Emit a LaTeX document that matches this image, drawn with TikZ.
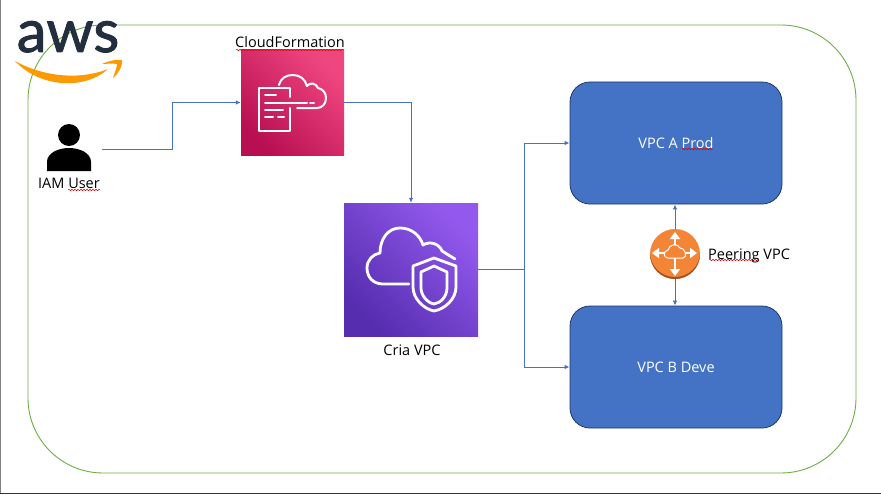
\documentclass[tikz,border=0pt]{standalone}
\usepackage{fontspec}
\setmainfont{Open Sans}
\newfontfamily\logofont[RawFeature={embolden=1.5}]{Lato}
\usepackage{xcolor}
\usetikzlibrary{arrows.meta,positioning,decorations.pathmorphing}
\definecolor{linkblue}{HTML}{4472C4}
\definecolor{vpcedge}{HTML}{1F3864}
\definecolor{framegreen}{HTML}{70AD47}
\definecolor{awsink}{HTML}{232F3E}
\definecolor{awsorange}{HTML}{FF9900}
\definecolor{routerorange}{HTML}{F58536}
\definecolor{routerdark}{HTML}{9D5025}
\definecolor{cformlow}{HTML}{B80F52}
\definecolor{cformhigh}{HTML}{F04680}
\definecolor{crialow}{HTML}{552DAE}
\definecolor{criahigh}{HTML}{9359EE}
\begin{document}
\begin{tikzpicture}[
    x=1pt, y=-1pt,
    vpcbox/.style={
        rectangle,
        draw=vpcedge,
        fill=linkblue,
        line width=0.8pt,
        minimum width=212pt,
        minimum height=122pt,
        rounded corners=20pt,
        text=white,
        font=\fontsize{14.5}{17}\selectfont
    },
    iconbox/.style 2 args={
        rectangle,
        inner sep=0pt,
        bottom color=#1,
        top color=#2,
        shading angle=-45
    },
    link/.style={-{Latex[length=5pt,width=4.5pt]}, draw=linkblue, line width=1pt},
    trunk/.style={draw=linkblue, line width=1.6pt},
    glyph/.style={draw=white, line width=2pt, line cap=round, line join=round},
    bigglyph/.style={glyph, line width=2.8pt},
    spoke/.style={white, line width=2.6pt, -{Triangle[length=7pt,width=10pt]}},
    caption/.style={inner sep=0pt, font=\fontsize{14.5}{17}\selectfont},
    squig/.style={draw=red!85!black, line width=0.5pt, decorate,
        decoration={snake, amplitude=0.7pt, segment length=3pt}}
]
\useasboundingbox (0,0) rectangle (881,495);
\fill[white] (0,0) rectangle (881,495);

% Window edge
\draw[gray, line width=1.2pt] (0.6,0) -- (0.6,493);
\draw[black!80, line width=1.5pt] (0,493.6) -- (881,493.6);

% Account boundary
\node[draw=framegreen, line width=0.9pt, rounded corners=75pt, inner sep=0pt,
      minimum width=828pt, minimum height=448pt] (account) at (442,249) {};

% AWS logo
\node[anchor=base, inner sep=0pt, text=awsink, font=\logofont\fontsize{60}{60}\selectfont] (logo) at (68,52) {aws};
\fill[awsorange] (15,61) .. controls (38,74) and (75,82) .. (108,69) .. controls (85,90) and (40,88) .. (15,61) -- cycle;
\fill[awsorange] (102,64) .. controls (108,61) and (117,59) .. (122,60) .. controls (123,66) and (118,74) .. (113,78)
    .. controls (115,72) and (117,67) .. (117,64) .. controls (112,63) and (107,64) .. (102,64) -- cycle;

% User
\node[inner sep=0pt, minimum width=66pt, minimum height=48pt] (user) at (69,149) {};
\fill (69,135) circle (11);
\fill (47,171) -- (47,162) .. controls (47,152) and (60,148) .. (69,148)
    .. controls (78,148) and (91,152) .. (91,162) -- (91,171) -- cycle;
\node[caption] (userlabel) at (69,183) {IAM User};

% CloudFormation
\node[iconbox={cformlow}{cformhigh}, minimum width=103pt, minimum height=105pt] (cform) at (292.5,102.5) {};
\node[caption] (cformlabel) at (290,42) {CloudFormation};
\draw[glyph] (290,97) -- (290,88) -- (259,88) -- (259,131) -- (290,131) -- (290,108);
\draw[glyph] (265,103) -- (307,103) (310,103) -- (314,103);
\draw[glyph] (265,95) -- (276,95) (265,110) -- (283,110) (265,117) -- (273,117) (278,117) -- (284,117);
\draw[glyph] (279,85) .. controls (281,78) and (286,75) .. (293,75) .. controls (300,75) and (305,79) .. (307,86)
    .. controls (310,82) and (316,83) .. (318,88) .. controls (323,89) and (326,93) .. (326,98)
    .. controls (326,104) and (322,108) .. (317,108) -- (297,108);

% Cria VPC
\node[iconbox={crialow}{criahigh}, minimum width=134pt, minimum height=133pt] (cria) at (411,269.5) {};
\node[caption] (crialabel) at (412,350) {Cria VPC};
\draw[bigglyph] (409,284) -- (383,284) .. controls (373,284) and (367,277) .. (367,268)
    .. controls (367,260) and (373,254) .. (380,253) .. controls (380,239) and (388,228) .. (400,228)
    .. controls (411,228) and (420,235) .. (423,245) .. controls (429,241) and (439,243) .. (442,251) -- (455,259);
\draw[bigglyph] (434,258) -- (413,266) -- (413,287) .. controls (413,299) and (424,309) .. (434,311)
    .. controls (445,309) and (456,299) .. (456,287) -- (456,266) -- cycle;
\draw[bigglyph] (434,266) -- (421,272) -- (421,288) .. controls (421,296) and (428,303) .. (434,304)
    .. controls (441,303) and (447,296) .. (447,288) -- (447,272) -- cycle;

% VPCs
\node[vpcbox] (vpca) at (676,143) {VPC A Prod};
\node[vpcbox] (vpcb) at (676,367) {VPC B Deve};

% Peering router
\node[circle, fill=routerorange, inner sep=0pt, minimum size=50pt] (router) at (675,254) {};
\begin{scope}
\clip (650,254) rectangle (700,280);
\fill[routerdark] (675,254) circle (25);
\fill[routerorange] (675,252) circle (25);
\end{scope}
\draw[spoke] (675,250) -- (675,232);
\draw[spoke] (675,256) -- (675,276);
\draw[spoke] (670,253) -- (652,253);
\draw[spoke] (680,253) -- (697,253);
\draw[draw=white, fill=routerorange, line width=1pt] (668,258) .. controls (663,258) and (663,251) .. (668,250)
    .. controls (669,244) and (678,243) .. (680,248) .. controls (685,247) and (688,258) .. (683,258) -- cycle;
\node[caption, anchor=west] (routerlabel) at (708,255.5) {Peering VPC};

% Flow arrows
\coordinate[right=70pt of user] (userbend);
\coordinate[right=46.5pt of cria] (criasplit);
\draw[link] (user.east) -- (userbend) |- (cform.west);
\draw[link] (cform.east) -| (cria.north);
\draw[trunk] (cria.east) -- (criasplit);
\draw[link] (criasplit) |- (vpca.west);
\draw[link] (criasplit) |- (vpcb.west);
\draw[link] (router.north) -- (router.north |- vpca.south);
\draw[link] (router.south) -- (router.south |- vpcb.north);

% Spell check marks
\draw[squig] (68,190) -- (100,190);
\draw[squig] (236,50) -- (344,50);
\draw[squig] (682,149) -- (713,149);
\draw[squig] (709,260) -- (759,260);

\end{tikzpicture}
\end{document}
